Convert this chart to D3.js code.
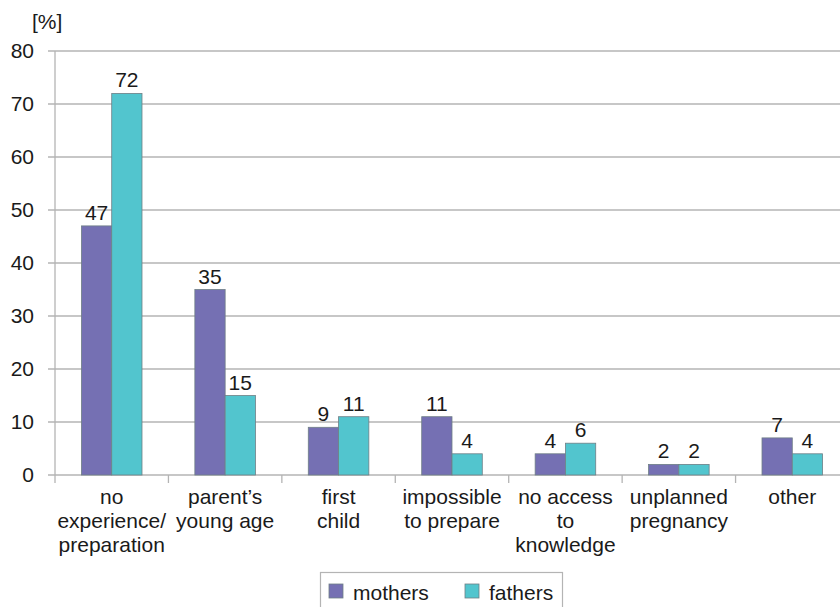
<!DOCTYPE html>
<html><head><meta charset="utf-8">
<script src="https://cdn.jsdelivr.net/npm/d3@7"></script>
<style>body{margin:0;background:#fff}svg{display:block}text{font-family:"Liberation Sans",Arial,sans-serif;fill:#1a1a1a}</style>
</head><body><svg id="c" width="840" height="607"></svg>
<script>
const categories = [["no","experience/","preparation"],["parent’s","young age"],["first","child"],["impossible","to prepare"],["no access","to","knowledge"],["unplanned","pregnancy"],["other"]];
const mothers = [47,35,9,11,4,2,7];
const fathers = [72,15,11,4,6,2,4];
const seriesNames = ["mothers","fathers"];
const colors = ["#7570B3","#52C5CE"];
const yTicks = [0,10,20,30,40,50,60,70,80];

const svg = d3.select("#c");
const x0 = 55, x1 = 849, yTop = 51, yBot = 475;
const fs = 21;
const x = d3.scaleBand().domain(d3.range(categories.length)).range([x0,x1]);
const y = d3.scaleLinear().domain([0,80]).range([yBot,yTop]);
const bw = x.bandwidth()*0.267;

svg.append("g").selectAll("line").data(yTicks).join("line")
  .attr("x1",48).attr("x2",840).attr("y1",d=>y(d)).attr("y2",d=>y(d))
  .attr("stroke","#b4b4b4").attr("stroke-width",1.3);
svg.append("line").attr("x1",x0).attr("x2",x0).attr("y1",yTop).attr("y2",yBot).attr("stroke","#b4b4b4").attr("stroke-width",1.3);
svg.append("g").selectAll("line").data(d3.range(categories.length+1)).join("line")
  .attr("x1",d=>x0+d*x.step()).attr("x2",d=>x0+d*x.step()).attr("y1",yBot).attr("y2",yBot+8)
  .attr("stroke","#b4b4b4").attr("stroke-width",1.3);
svg.append("g").selectAll("text").data(yTicks).join("text")
  .attr("x",34).attr("y",d=>y(d)+7).attr("text-anchor","end").attr("font-size",fs).text(d=>d);
svg.append("text").attr("x",32).attr("y",29).attr("font-size",fs).text("[%]");

const data = [mothers,fathers];
data.forEach((vals,si)=>{
  const g = svg.append("g");
  g.selectAll("rect").data(vals).join("rect")
    .attr("x",(d,i)=>x(i)+x.bandwidth()/2-bw+si*bw)
    .attr("y",d=>y(d)).attr("width",bw).attr("height",d=>yBot-y(d))
    .attr("fill",colors[si]).attr("stroke","#6f7f86").attr("stroke-width",0.8);
  g.selectAll("text").data(vals).join("text")
    .attr("x",(d,i)=>x(i)+x.bandwidth()/2-bw+si*bw+bw/2)
    .attr("y",d=>y(d)-6).attr("text-anchor","middle").attr("font-size",fs).text(d=>d);
});

const cl = svg.append("g");
categories.forEach((lines,i)=>{
  const t = cl.append("text").attr("text-anchor","middle").attr("font-size",fs);
  lines.forEach((ln,j)=>t.append("tspan").attr("x",x(i)+x.bandwidth()/2).attr("y",504+j*24).text(ln));
});

const lg = svg.append("g");
lg.append("rect").attr("x",320.5).attr("y",572.5).attr("width",242).attr("height",50).attr("fill","#fff").attr("stroke","#b4b4b4").attr("stroke-width",1.2);
const lx = [329,465];
seriesNames.forEach((n,i)=>{
  lg.append("rect").attr("x",lx[i]).attr("y",584).attr("width",14).attr("height",14).attr("fill",colors[i]).attr("stroke","#6f7f86").attr("stroke-width",0.8);
  lg.append("text").attr("x",lx[i]+24).attr("y",600).attr("font-size",fs).text(n);
});
</script></body></html>
